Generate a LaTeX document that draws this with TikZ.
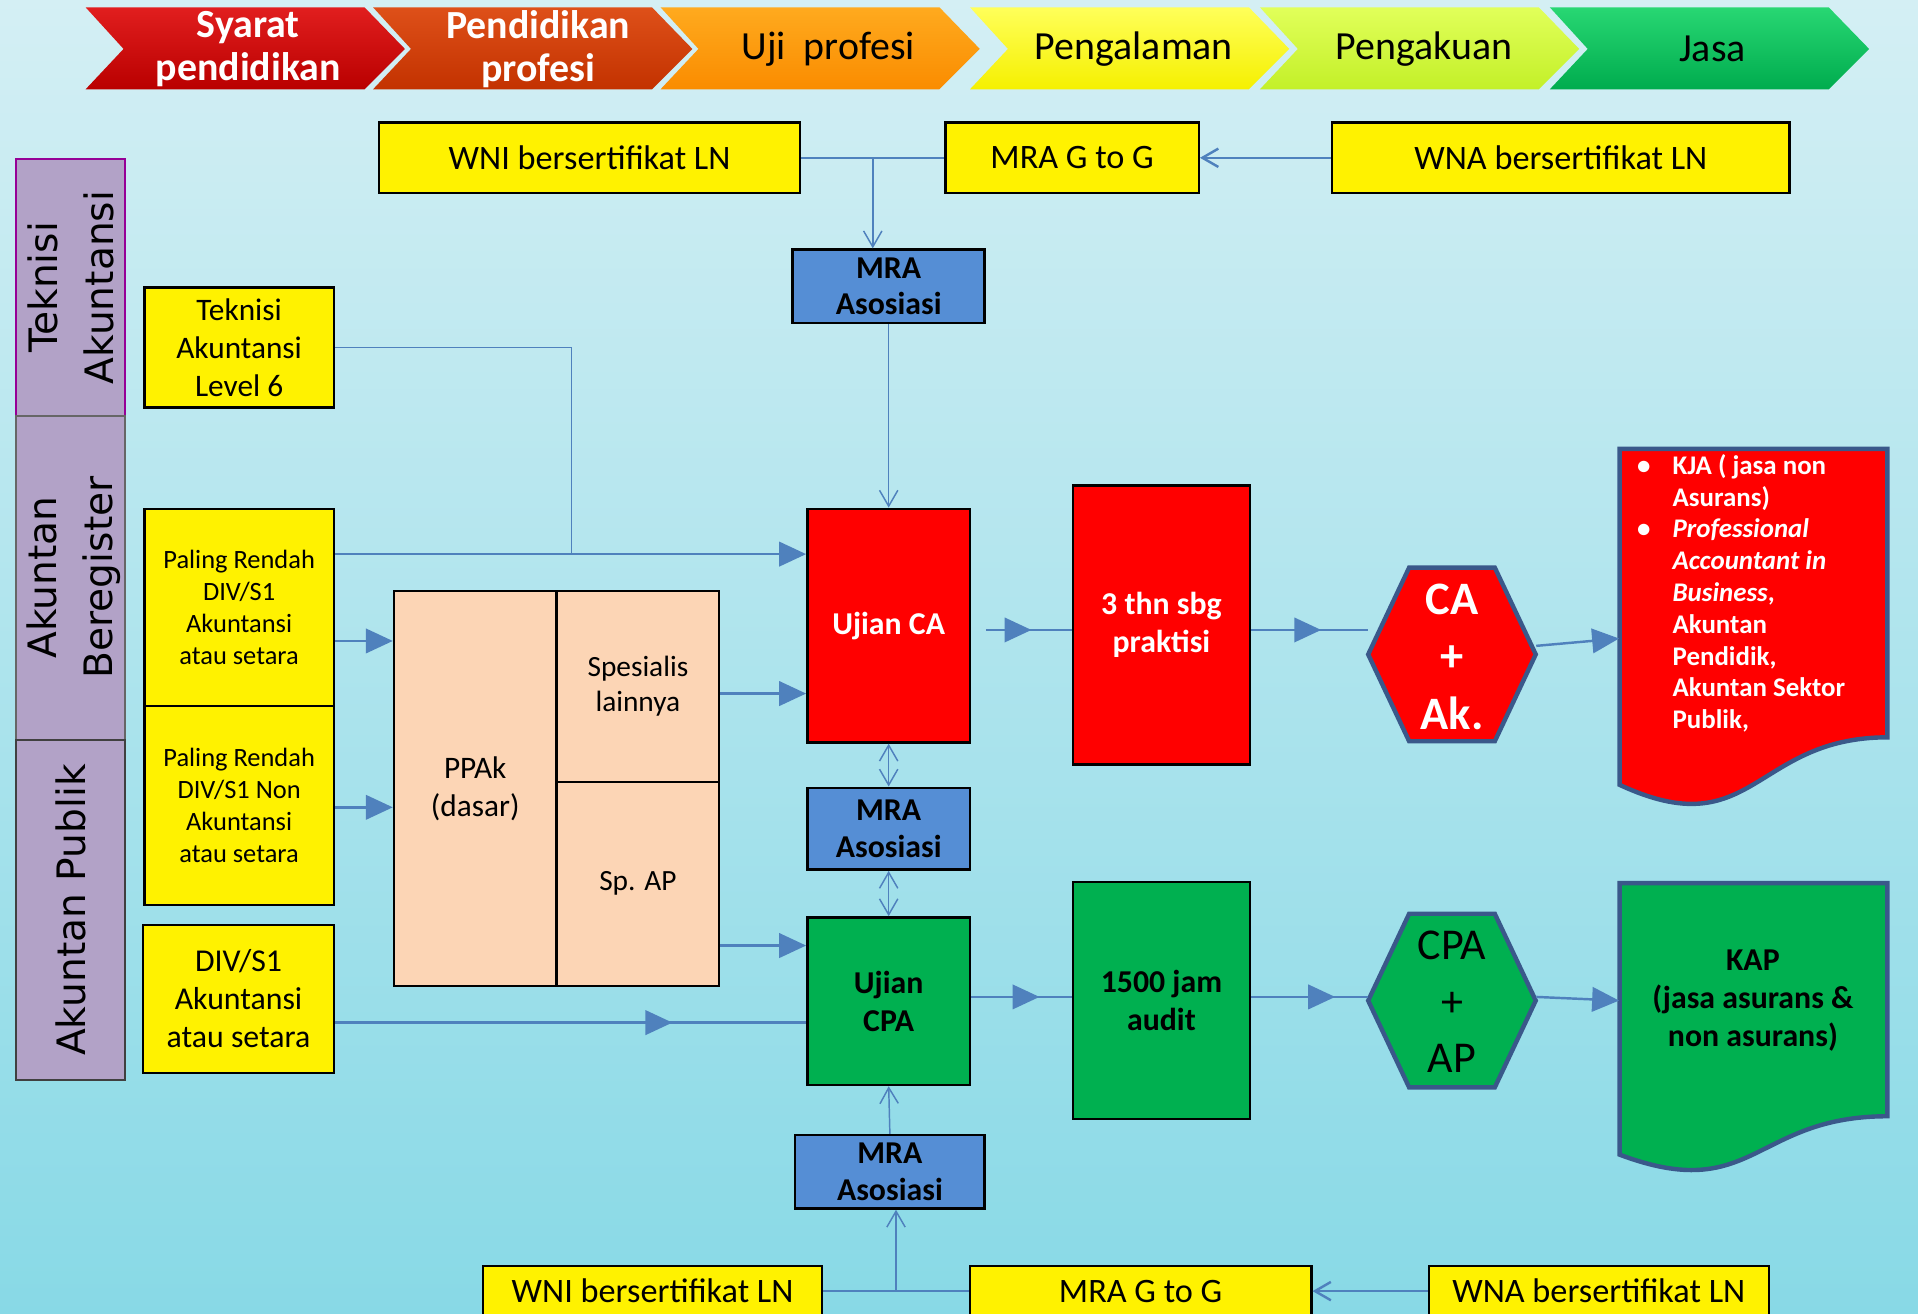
\documentclass[tikz,border=0pt]{standalone}
\usepackage{fontspec}
\setmainfont{Carlito}
\newfontfamily\labfont{DejaVu Sans}
\usetikzlibrary{arrows.meta,calc,decorations.markings}
\definecolor{bgtop}{RGB}{212,239,244}
\definecolor{bgbot}{RGB}{136,217,230}
\definecolor{conn}{RGB}{79,129,189}
\definecolor{mrablue}{RGB}{85,142,213}
\definecolor{peach}{RGB}{252,213,181}
\definecolor{lav}{RGB}{178,162,199}
\definecolor{grn}{RGB}{0,176,80}
\definecolor{docedge}{RGB}{58,88,138}
\definecolor{purp}{RGB}{150,0,150}
\definecolor{c1t}{RGB}{225,30,30}
\definecolor{c1b}{RGB}{185,0,0}
\definecolor{c2t}{RGB}{222,80,25}
\definecolor{c2b}{RGB}{195,50,0}
\definecolor{c3t}{RGB}{255,170,30}
\definecolor{c3b}{RGB}{250,140,0}
\definecolor{c4t}{RGB}{255,255,90}
\definecolor{c4b}{RGB}{245,240,0}
\definecolor{c5t}{RGB}{225,255,90}
\definecolor{c5b}{RGB}{195,240,40}
\definecolor{c6t}{RGB}{40,215,115}
\definecolor{c6b}{RGB}{0,172,78}
\newcommand\bx[7][]{\node[#1,minimum width={(#5-#3)*0.5pt},minimum height={(#6-#4)*0.5pt}] (#2) at ({(#3+#5)/2},{(#4+#6)/2}) {#7};}
\newcommand\chev[3]{\shade[top color=#2,bottom color=#3] (#1,6) -- ({#1+228},6) -- ({#1+261},40) -- ({#1+228},73) -- (#1,73) -- ({#1+31},40) -- cycle;}
\newcommand\hexa[4]{\filldraw[fill=#4,draw=docedge,line width=1.8pt] ({#2-68.5},#3) -- ({#2-35},{#3-71}) -- ({#2+35},{#3-71}) -- ({#2+68.5},#3) -- ({#2+35},{#3+71}) -- ({#2-35},{#3+71}) -- cycle;
\node[minimum width=68.5pt,minimum height=71pt,inner sep=0pt] (#1) at (#2,#3) {};}
\newcommand\docshape[6]{\filldraw[fill=#6,draw=docedge,line width=1.8pt] (#2,#3) -- (#4,#3) -- (#4,{#3+0.802*#5}) .. controls ({(#2+#4)/2},{#3+0.802*#5}) and ({(#2+#4)/2},{#3+1.107*#5}) .. (#2,{#3+0.934*#5}) -- cycle;
\node[minimum width={(#4-#2)*0.5pt},minimum height={0.934*#5*0.5pt},inner sep=0pt] (#1) at ({(#2+#4)/2},{#3+0.467*#5}) {};}
\begin{document}
\begin{tikzpicture}[x=0.5pt,y=-0.5pt,
  cline/.style={draw=conn,color=conn,line width=1pt},
  cthin/.style={draw=conn,color=conn,line width=0.6pt},
  fat/.style={-{Triangle[length=11pt,width=10pt]}},
  barb/.style={-{Straight Barb[length=6.5pt,width=7.5pt]}},
  dbarb/.style={{Straight Barb[length=6.5pt,width=7.5pt]}-{Straight Barb[length=6.5pt,width=7.5pt]}},
  midarr/.style={postaction={decorate},decoration={markings,mark=at position #1 with {\arrow{Triangle[length=11pt,width=10pt]}}}},
  ybox/.style={fill=yellow,draw=black,line width=1pt,inner sep=0pt,align=center},
  yrow/.style={ybox,font=\fontsize{14}{16}\selectfont},
  mrabox/.style={fill=mrablue,draw=black,line width=1pt,inner sep=0pt,align=center,font=\bfseries\fontsize{13}{15}\selectfont},
  pbox/.style={fill=peach,draw=black,line width=0.9pt,inner sep=0pt,align=center},
  rbox/.style={fill=red,draw=black,line width=1pt,inner sep=0pt,align=center,text=white,font=\bfseries\fontsize{13}{15.5}\selectfont},
  gbox/.style={fill=grn,draw=black,line width=1pt,inner sep=0pt,align=center,font=\bfseries\fontsize{13}{15.5}\selectfont},
  lbox/.style={fill=lav,line width=1pt,inner sep=0pt},
  chevtxt/.style={align=center,inner sep=0pt,font=\fontsize{16.3}{17.5}\selectfont},
  labtxt/.style={rotate=90,align=center,inner sep=0pt,font=\labfont\fontsize{16}{23}\selectfont}
]
\useasboundingbox (0,0) rectangle (1568,1074);
\shade[top color=bgtop,bottom color=bgbot] (0,0) rectangle (1568,1074);

% chevrons
\chev{70}{c1t}{c1b}
\chev{305}{c2t}{c2b}
\chev{540}{c3t}{c3b}
\chev{793}{c4t}{c4b}
\chev{1030}{c5t}{c5b}
\chev{1267}{c6t}{c6b}
\node[chevtxt,text=white,font=\bfseries\fontsize{16.3}{17.5}\selectfont] (c1) at (203,40) {Syarat\\pendidikan};
\node[chevtxt,text=white,font=\bfseries\fontsize{16.3}{17.5}\selectfont] (c2) at (440,40) {Pendidikan\\profesi};
\node[chevtxt] (c3) at (677,40) {Uji~~profesi};
\node[chevtxt] (c4) at (927,40) {Pengalaman};
\node[chevtxt] (c5) at (1164,40) {Pengakuan};
\node[chevtxt] (c6) at (1400,40) {Jasa};

% left labels
\bx[lbox,draw=purp]{lab1}{13}{130}{102}{340}{}
\bx[lbox,draw=black!60]{lab2}{13}{340}{102}{605}{}
\bx[lbox,draw=black!75]{lab3}{13}{605}{102}{883}{}
\node[labtxt] (lt1) at (58,235) {Teknisi\\Akuntansi};
\node[labtxt] (lt2) at (60,472) {Akuntan\\Beregister};
\node[labtxt] (lt3) at (58,744) {Akuntan Publik};

% top row
\bx[yrow]{wni1}{310}{100}{654}{158}{WNI bersertifikat LN}
\bx[yrow]{gg1}{773}{100}{980}{158}{MRA G to G}
\bx[yrow]{wna1}{1089}{100}{1463}{158}{WNA bersertifikat LN}
\bx[mrabox]{mra1}{648}{204}{805}{264}{MRA\\Asosiasi}

% bottom row
\bx[yrow]{wni2}{395}{1035}{672}{1076}{WNI bersertifikat LN}
\bx[yrow]{gg2}{793}{1035}{1072}{1076}{MRA G to G}
\bx[yrow]{wna2}{1168}{1035}{1446}{1076}{WNA bersertifikat LN}
\bx[mrabox]{mra3}{650}{928}{805}{988}{MRA\\Asosiasi}

% left yellow boxes
\bx[ybox,font=\fontsize{12.8}{15.5}\selectfont]{tek}{118}{235}{273}{333}{Teknisi\\Akuntansi\\Level 6}
\bx[ybox,font=\fontsize{10.8}{13}\selectfont]{pr1}{118}{416}{273}{577}{Paling Rendah\\DIV/S1\\Akuntansi\\atau setara}
\bx[ybox,font=\fontsize{10.8}{13}\selectfont]{pr2}{118}{577}{273}{740}{Paling Rendah\\DIV/S1 Non\\Akuntansi\\atau setara}
\bx[ybox,font=\fontsize{13}{15.5}\selectfont]{div}{117}{756}{273}{877}{DIV/S1\\Akuntansi\\atau setara}

% PPAk
\bx[pbox,font=\fontsize{12.8}{15.5}\selectfont]{ppak}{322}{483}{455}{806}{PPAk\\(dasar)}
\bx[pbox,font=\fontsize{12}{14.5}\selectfont]{spes}{455}{483}{588}{639}{Spesialis\\lainnya}
\bx[pbox,font=\fontsize{12}{14.5}\selectfont]{spap}{455}{639}{588}{806}{Sp. AP}

% exams
\bx[rbox]{ca}{660}{416}{793}{607}{Ujian CA}
\bx[mrabox]{mra2}{660}{644}{793}{711}{MRA\\Asosiasi}
\bx[gbox]{cpa}{660}{750}{793}{887}{Ujian\\CPA}
\bx[rbox]{thn}{877}{397}{1022}{625}{3 thn sbg\\praktisi}
\bx[gbox]{ths}{877}{721}{1022}{915}{1500 jam\\audit}

% hexagons
\hexa{hca}{1187}{535}{red}
\node[align=center,text=white,font=\bfseries\fontsize{19}{23.5}\selectfont] (tca) at (1187,537) {CA\\+\\Ak.};
\hexa{hcpa}{1187}{818}{grn}
\node[align=center,font=\fontsize{18}{23}\selectfont] (tcpa) at (1187,819) {CPA\\+\\AP};

% documents
\docshape{kja}{1324}{367}{1543}{294}{red}
\node[anchor=north west,align=left,inner sep=0pt,text=white,font=\bfseries\fontsize{11}{13}\selectfont] (kjatxt) at (1338,371)
 {\makebox[14.5pt][l]{\textbullet}KJA ( jasa non\\
  \hspace*{14.5pt}Asurans)\\
  \makebox[14.5pt][l]{\textbullet}\textit{Professional}\\
  \hspace*{14.5pt}\textit{Accountant in}\\
  \hspace*{14.5pt}\textit{Business},\\
  \hspace*{14.5pt}Akuntan\\
  \hspace*{14.5pt}Pendidik,\\
  \hspace*{14.5pt}Akuntan Sektor\\
  \hspace*{14.5pt}Publik,};
\docshape{kap}{1324}{722}{1543}{237.6}{grn}
\node[align=center,inner sep=0pt,font=\bfseries\fontsize{13}{15.5}\selectfont] (kaptxt) at (1433,818) {KAP\\(jasa asurans \&\\non asurans)};

% connectors: top
\coordinate (j1) at ($(wni1.east)!0.5!(gg1.west)$);
\draw[cline] (wni1.east) -- (gg1.west);
\draw[cthin,barb] (j1) -- (j1 |- mra1.north);
\draw[cline,barb] (wna1.west) -- (gg1.east);
\draw[cthin,barb] (mra1.south) -- (ca.north);
\draw[cthin,dbarb] (ca.south) -- (mra2.north);
\draw[cthin,dbarb] (mra2.south) -- (cpa.north);
\draw[cthin,barb] (mra3.north) -- (cpa.south);
% bottom
\coordinate (j2) at ($(wni2.east)!0.5!(gg2.west)$);
\draw[cline] (wni2.east) -- (gg2.west);
\draw[cthin,barb] (j2) -- (j2 |- mra3.south);
\draw[cline,barb] (wna2.west) -- (gg2.east);

% left feeds
\coordinate (j3) at (467,453);
\draw[cthin] (tek.east) -- (tek.east -| j3) -- (j3);
\draw[cline,fat] (pr1.east |- j3) -- (ca.west |- j3);
\draw[cline,fat] (pr1.east |- 0,524) -- (ppak.west |- 0,524);
\draw[cline,fat] (pr2.east |- 0,660) -- (ppak.west |- 0,660);
\draw[cline,fat] (spes.east |- 0,567) -- (ca.west |- 0,567);
\draw[cline,fat] (spap.east |- 0,773) -- (cpa.west |- 0,773);
\draw[cline,midarr=0.716] (div.east |- 0,836) -- (cpa.west |- 0,836);

% right flow
\draw[cline,shorten <=6pt,midarr=0.6] (ca.east |- 0,515) -- (thn.west |- 0,515);
\draw[cline,midarr=0.6] (thn.east |- 0,515) -- (hca.west |- 0,515);
\draw[cline,fat] (hca.east |- 0,528) -- (kja.west |- 0,522);
\draw[cline,midarr=0.68] (cpa.east |- 0,815) -- (ths.west |- 0,815);
\draw[cline,midarr=0.72] (ths.east |- 0,815) -- (hcpa.west |- 0,815);
\draw[cline,fat] (hcpa.east |- 0,815) -- (kap.west |- 0,818);
\end{tikzpicture}
\end{document}
